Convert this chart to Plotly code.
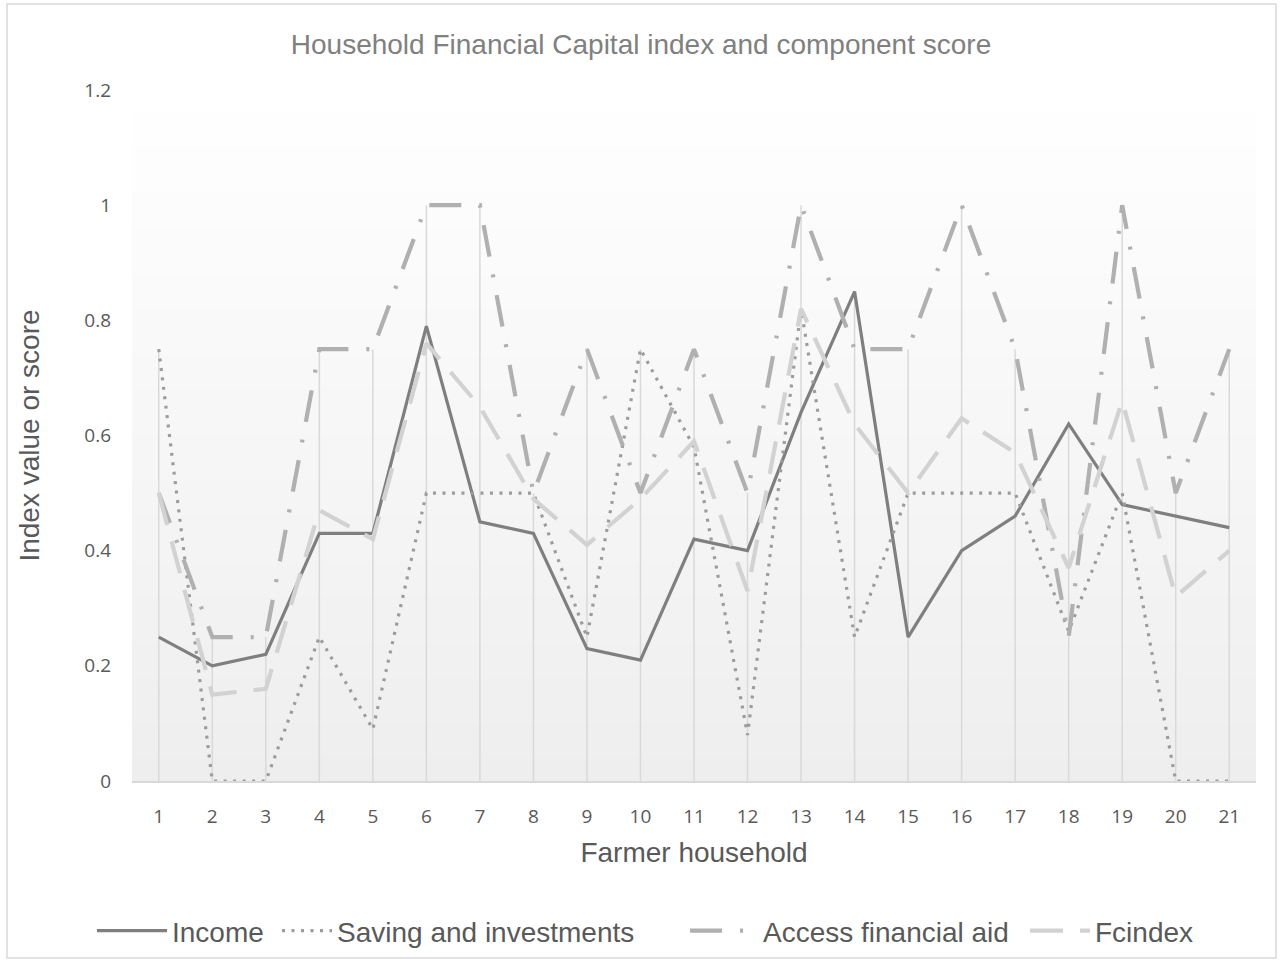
import plotly.graph_objects as go

# ---------------- data ----------------
categories = list(range(1, 22))
tick_labels = [str(c) for c in categories]
income = [0.25, 0.20, 0.22, 0.43, 0.43, 0.79, 0.45, 0.43, 0.23, 0.21, 0.42,
          0.40, 0.64, 0.85, 0.25, 0.40, 0.46, 0.62, 0.48, 0.46, 0.44]
saving = [0.75, 0.0, 0.0, 0.25, 0.09, 0.50, 0.50, 0.50, 0.25, 0.75, 0.58,
          0.08, 0.82, 0.25, 0.50, 0.50, 0.50, 0.26, 0.50, 0.0, 0.0]
access = [0.50, 0.25, 0.25, 0.75, 0.75, 1.0, 1.0, 0.50, 0.75, 0.50, 0.75,
          0.50, 1.0, 0.75, 0.75, 1.0, 0.75, 0.25, 1.0, 0.50, 0.75]
fcindex = [0.50, 0.15, 0.16, 0.47, 0.42, 0.76, 0.65, 0.49, 0.41, 0.49, 0.59,
           0.33, 0.82, 0.62, 0.50, 0.63, 0.57, 0.37, 0.66, 0.32, 0.40]
y_ticks = [0, 0.2, 0.4, 0.6, 0.8, 1.0, 1.2]
y_tick_labels = ["0", "0.2", "0.4", "0.6", "0.8", "1", "1.2"]
series_names = ["Income", "Saving and investments", "Access financial aid", "Fcindex"]

W, H = 1282, 963
L, R, T, B = 132, 26, 90, 182
PW, PH = W - L - R, H - T - B

styles = [
    dict(color="#7f7f7f", width=3.2, dash="solid"),
    dict(color="#9c9c9c", width=3.2, dash="3px,6.5px"),
    dict(color="#b0b0b0", width=4.2, dash="32px,18px,3px,18px"),
    dict(color="#d2d2d2", width=4.2, dash="33px,17px"),
]
# legend placement (left px of each entry, symbol width)
legend_left = [92, 277, 685, 1025]
legend_itemw = [70, 50, 68, 60]
legend_ids = ["legend", "legend2", "legend3", "legend4"]

fig = go.Figure()

# drop lines from axis up to the highest value in each category
maxv = [max(v) for v in zip(income, saving, access, fcindex)]
dx, dy = [], []
for c, m in zip(categories, maxv):
    dx += [c, c, None]
    dy += [0, m, None]
fig.add_trace(go.Scatter(x=dx, y=dy, mode="lines", showlegend=False, hoverinfo="skip",
                         line=dict(color="#d9d9d9", width=1.5)))

for name, vals, ln, lid in zip(series_names, [income, saving, access, fcindex], styles, legend_ids):
    fig.add_trace(go.Scatter(x=categories, y=vals, mode="lines", name=name, line=ln, legend=lid))

# background gradient of plot area
shapes = []
nb = 60
top = (255, 255, 255)
bot = (238, 238, 238)
for i in range(nb):
    t0 = i / nb
    t1 = (i + 1) / nb
    f = (i + 0.5) / nb
    col = tuple(round(bot[k] + (top[k] - bot[k]) * f) for k in range(3))
    shapes.append(dict(type="rect", xref="paper", yref="paper", x0=0, x1=1, y0=t0, y1=t1 + 0.001,
                       fillcolor="rgb(%d,%d,%d)" % col, line=dict(width=0), layer="below"))
# outer chart border
shapes.append(dict(type="rect", xref="paper", yref="paper",
                   x0=(7 - L) / PW, x1=(1276 - L) / PW,
                   y0=(H - B - 958) / PH, y1=(H - B - 4) / PH,
                   line=dict(color="#d9d9d9", width=1.5), fillcolor="rgba(0,0,0,0)", layer="below"))

legend_font = dict(family="Liberation Sans, Arial", size=28, color="#595959")
legends = {}
for lid, lx, iw in zip(legend_ids, legend_left, legend_itemw):
    legends[lid] = dict(orientation="h", xref="container", x=lx / W, xanchor="left",
                        yref="container", y=1 - 931 / H, yanchor="middle",
                        font=legend_font, itemwidth=iw, bgcolor="rgba(0,0,0,0)")

fig.update_layout(
    width=W, height=H,
    margin=dict(l=L, r=R, t=T, b=B, pad=0),
    paper_bgcolor="white", plot_bgcolor="white",
    shapes=shapes,
    title=dict(text="Household Financial Capital index and component score",
               x=0.5, xref="container", xanchor="center",
               y=1 - 44 / H, yref="container", yanchor="middle",
               font=dict(family="Liberation Sans, Arial", size=28, color="#808080")),
    xaxis=dict(range=[0.5, 21.5], tickvals=categories, ticktext=tick_labels,
               showgrid=False, zeroline=False, showline=True, linecolor="#d9d9d9", linewidth=1.5,
               ticks="", ticklabelstandoff=17,
               tickfont=dict(family="Open Sans", size=19, color="#595959"),
               title=dict(text="Farmer household", standoff=15,
                          font=dict(family="Liberation Sans, Arial", size=28, color="#595959"))),
    yaxis=dict(range=[0, 1.2], tickvals=y_ticks, ticktext=y_tick_labels,
               showgrid=False, zeroline=False, showline=False, ticks="",
               ticklabelstandoff=20,
               tickfont=dict(family="Open Sans", size=19, color="#595959"),
               title=dict(text="Index value or score", standoff=36,
                          font=dict(family="Liberation Sans, Arial", size=28, color="#595959"))),
    showlegend=True,
    **legends,
)

fig.write_html("out.html", config={"displayModeBar": False},
               post_script="document.body.style.margin='0';")
